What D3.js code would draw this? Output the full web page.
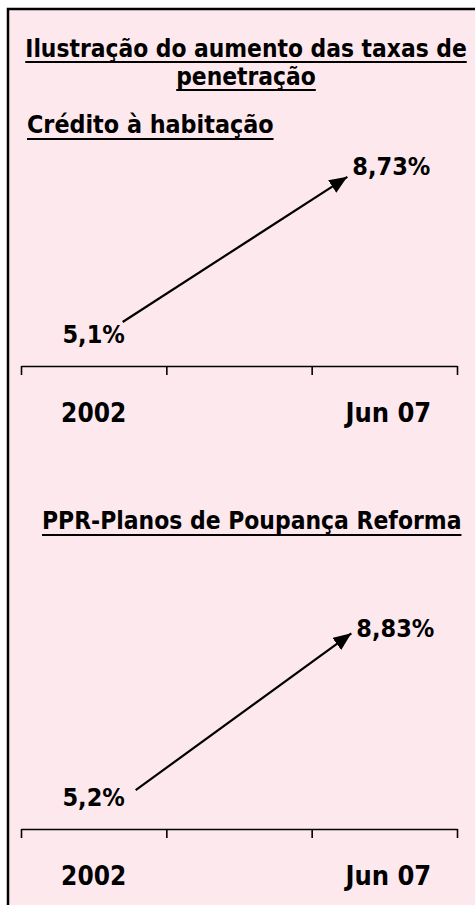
<!DOCTYPE html>
<html>
<head>
<meta charset="utf-8">
<script src="https://cdn.jsdelivr.net/npm/d3@7"></script>
<style>
  html, body { margin: 0; padding: 0; background: #ffffff; }
  svg { display: block; }
  text { font-family: "DejaVu Sans Condensed", "DejaVu Sans", sans-serif; font-stretch: condensed; font-weight: bold; fill: #000; }
</style>
</head>
<body>
<svg id="chart" width="475" height="905"></svg>
<script>
// Periods on the category axis (the middle slot carries no label)
const periods = ["2002", "mid", "Jun 07"];
const periodLabels = ["2002", "", "Jun 07"];

// Penetration rates (%) at the start and end of the period
const creditoHabitacao = [5.1, 8.73];
const pprValues = [5.2, 8.83];

const titleLines = ["Ilustração do aumento das taxas de", "penetração"];
const panelTitles = ["Crédito à habitação", "PPR-Planos de Poupança Reforma"];

const W = 475, H = 905;
const svg = d3.select("#chart");

// framed pink card
svg.append("rect")
  .attr("x", 8).attr("y", 9)
  .attr("width", W + 20).attr("height", H + 20)
  .attr("fill", "#fde9ed")
  .attr("stroke", "#000").attr("stroke-width", 2.5);

// arrowhead
svg.append("defs").append("marker")
  .attr("id", "head")
  .attr("markerUnits", "userSpaceOnUse")
  .attr("markerWidth", 19).attr("markerHeight", 15)
  .attr("viewBox", "0 0 19 15")
  .attr("refX", 18).attr("refY", 7.5)
  .attr("orient", "auto")
  .append("path")
  .attr("d", "M0,0 L18,7.5 L0,15 Z")
  .attr("fill", "#000");

function underlined(g, str, x, y, size, anchor, gap) {
  const t = g.append("text")
    .attr("x", x).attr("y", y)
    .attr("font-size", size)
    .attr("text-anchor", anchor)
    .text(str);
  const w = t.node().getComputedTextLength();
  const x0 = anchor === "middle" ? x - w / 2 : x;
  g.append("line")
    .attr("x1", x0).attr("x2", x0 + w)
    .attr("y1", y + gap).attr("y2", y + gap)
    .attr("stroke", "#000").attr("stroke-width", 2);
}

// main title
underlined(svg, titleLines[0], 246, 57, 24.3, "middle", 5);
underlined(svg, titleLines[1], 246, 85, 24.3, "middle", 5);

const fmt = v => String(v).replace(".", ",") + "%";

const panels = [
  { title: panelTitles[0], titleX: 27, titleY: 133, titleSize: 24.8, values: creditoHabitacao,
    axisY: 366, yDomain: [4.0, 9.0], yExtent: 200, startInset: 29, endInset: 37, endDy: -2 },
  { title: panelTitles[1], titleX: 42, titleY: 529, titleSize: 24.4, values: pprValues,
    axisY: 829, yDomain: [4.3, 9.0], yExtent: 203, startInset: 42, endInset: 33, endDy: 4 }
];

const x = d3.scaleBand().domain(periods).range([21, 457]).padding(0);
const xIdx = d3.scaleLinear().domain([0, periods.length]).range(x.range());

panels.forEach(p => {
  const g = svg.append("g");
  underlined(g, p.title, p.titleX, p.titleY, p.titleSize, "start", 6);

  const y = d3.scaleLinear().domain(p.yDomain).range([p.axisY, p.axisY - p.yExtent]);

  // category axis with ticks on the band boundaries
  const axis = d3.axisBottom(xIdx)
    .tickValues(d3.range(0, periods.length + 1))
    .tickSize(9).tickSizeOuter(0)
    .tickFormat("");
  const ag = g.append("g").attr("transform", `translate(0,${p.axisY})`).call(axis);
  ag.select(".domain").attr("stroke", "#000").attr("stroke-width", 1.6);
  ag.selectAll(".tick line").attr("stroke", "#000").attr("stroke-width", 1.6);

  g.selectAll("text.cat")
    .data(periods)
    .join("text")
    .attr("class", "cat")
    .attr("x", (d, i) => x(d) + x.bandwidth() / 2 + (i === periods.length - 1 ? 4 : 0))
    .attr("y", p.axisY + 56)
    .attr("font-size", (d, i) => i === periods.length - 1 ? 27 : 26)
    .attr("text-anchor", "middle")
    .text((d, i) => periodLabels[i]);

  const first = periods[0], last = periods[periods.length - 1];
  const x0 = x(first) + x.bandwidth() / 2 + p.startInset;
  const x1 = x(last) + x.bandwidth() / 2 - p.endInset;
  const y0 = y(p.values[0]), y1 = y(p.values[1]);

  g.append("line")
    .attr("x1", x0).attr("y1", y0)
    .attr("x2", x1).attr("y2", y1)
    .attr("stroke", "#000").attr("stroke-width", 2.2)
    .attr("marker-end", "url(#head)");

  // start value below-left of the arrow tail
  g.append("text")
    .attr("x", x(first) + x.bandwidth() / 2)
    .attr("y", p.axisY - 23)
    .attr("font-size", 25)
    .attr("text-anchor", "middle")
    .text(fmt(p.values[0]));

  // end value just right of the arrow tip
  g.append("text")
    .attr("x", x1 + 5)
    .attr("y", y1 + p.endDy)
    .attr("font-size", 25)
    .attr("text-anchor", "start")
    .text(fmt(p.values[1]));
});
</script>
</body>
</html>
